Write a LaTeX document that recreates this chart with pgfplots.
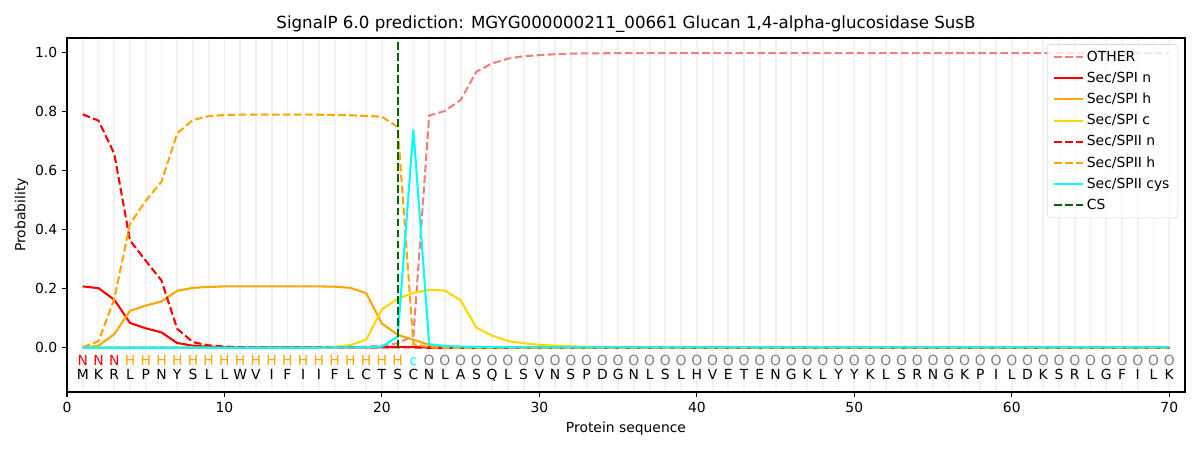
\documentclass[border=0pt]{standalone}
\usepackage{fontspec}
\setmainfont{DejaVu Sans}
\usepackage{pgfplots}
\pgfplotsset{compat=1.18}
\usepackage{pgfplotstable}
\definecolor{lcoral}{HTML}{F08080}
\definecolor{orng}{HTML}{FFA500}
\definecolor{gld}{HTML}{FFD700}
\definecolor{dgreen}{HTML}{006400}
\definecolor{cyn}{HTML}{00FFFF}
\definecolor{gry}{HTML}{808080}

\pgfplotstableread{
x other spin spih spic spiin spiih cys
1 0.001 0.208 0.000 0.000 0.791 0.002 0.000
2 0.001 0.202 0.007 0.000 0.770 0.022 0.000
3 0.001 0.163 0.046 0.000 0.658 0.165 0.000
4 0.001 0.084 0.125 0.000 0.364 0.420 0.000
5 0.001 0.066 0.143 0.000 0.295 0.498 0.000
6 0.001 0.052 0.157 0.000 0.228 0.563 0.000
7 0.001 0.016 0.193 0.000 0.064 0.727 0.000
8 0.001 0.007 0.203 0.000 0.019 0.772 0.000
9 0.001 0.003 0.206 0.000 0.008 0.785 0.000
10 0.001 0.002 0.208 0.000 0.004 0.789 0.000
11 0.001 0.001 0.208 0.000 0.002 0.790 0.000
12 0.001 0.001 0.208 0.000 0.001 0.790 0.000
13 0.001 0.001 0.208 0.000 0.001 0.790 0.000
14 0.001 0.001 0.208 0.000 0.001 0.790 0.000
15 0.001 0.001 0.208 0.000 0.001 0.790 0.000
16 0.001 0.001 0.208 0.001 0.001 0.790 0.000
17 0.001 0.001 0.207 0.003 0.001 0.789 0.001
18 0.002 0.001 0.203 0.009 0.001 0.788 0.001
19 0.004 0.001 0.185 0.027 0.001 0.786 0.002
20 0.007 0.002 0.082 0.130 0.001 0.783 0.004
21 0.015 0.003 0.044 0.166 0.001 0.749 0.038
22 0.040 0.003 0.027 0.186 0.001 0.012 0.739
23 0.787 0.001 0.010 0.196 0.000 0.002 0.012
24 0.803 0.000 0.003 0.194 0.000 0.000 0.006
25 0.840 0.000 0.001 0.161 0.000 0.000 0.004
26 0.936 0.000 0.000 0.068 0.000 0.000 0.003
27 0.964 0.000 0.000 0.041 0.000 0.000 0.002
28 0.980 0.000 0.000 0.023 0.000 0.000 0.002
29 0.988 0.000 0.000 0.015 0.000 0.000 0.001
30 0.992 0.000 0.000 0.010 0.000 0.000 0.001
31 0.995 0.000 0.000 0.007 0.000 0.000 0.001
32 0.997 0.000 0.000 0.005 0.000 0.000 0.001
33 0.998 0.000 0.000 0.003 0.000 0.000 0.001
34 0.998 0.000 0.000 0.002 0.000 0.000 0.001
35 0.999 0.000 0.000 0.001 0.000 0.000 0.001
36 0.999 0.000 0.000 0.001 0.000 0.000 0.001
37 0.999 0.000 0.000 0.001 0.000 0.000 0.001
38 0.999 0.000 0.000 0.001 0.000 0.000 0.001
39 0.999 0.000 0.000 0.001 0.000 0.000 0.001
40 0.999 0.000 0.000 0.001 0.000 0.000 0.001
41 0.999 0.000 0.000 0.000 0.000 0.000 0.001
42 0.999 0.000 0.000 0.000 0.000 0.000 0.001
43 0.999 0.000 0.000 0.000 0.000 0.000 0.001
44 0.999 0.000 0.000 0.000 0.000 0.000 0.001
45 0.999 0.000 0.000 0.000 0.000 0.000 0.001
46 0.999 0.000 0.000 0.000 0.000 0.000 0.001
47 0.999 0.000 0.000 0.000 0.000 0.000 0.001
48 0.999 0.000 0.000 0.000 0.000 0.000 0.001
49 0.999 0.000 0.000 0.000 0.000 0.000 0.001
50 0.999 0.000 0.000 0.000 0.000 0.000 0.001
51 0.999 0.000 0.000 0.000 0.000 0.000 0.001
52 0.999 0.000 0.000 0.000 0.000 0.000 0.001
53 0.999 0.000 0.000 0.000 0.000 0.000 0.001
54 0.999 0.000 0.000 0.000 0.000 0.000 0.001
55 0.999 0.000 0.000 0.000 0.000 0.000 0.001
56 0.999 0.000 0.000 0.000 0.000 0.000 0.001
57 0.999 0.000 0.000 0.000 0.000 0.000 0.001
58 0.999 0.000 0.000 0.000 0.000 0.000 0.001
59 0.999 0.000 0.000 0.000 0.000 0.000 0.001
60 0.999 0.000 0.000 0.000 0.000 0.000 0.001
61 0.999 0.000 0.000 0.000 0.000 0.000 0.001
62 0.999 0.000 0.000 0.000 0.000 0.000 0.001
63 0.999 0.000 0.000 0.000 0.000 0.000 0.001
64 0.999 0.000 0.000 0.000 0.000 0.000 0.001
65 0.999 0.000 0.000 0.000 0.000 0.000 0.001
66 0.999 0.000 0.000 0.000 0.000 0.000 0.001
67 0.999 0.000 0.000 0.000 0.000 0.000 0.001
68 0.999 0.000 0.000 0.000 0.000 0.000 0.001
69 0.999 0.000 0.000 0.000 0.000 0.000 0.001
70 0.999 0.000 0.000 0.000 0.000 0.000 0.001
}\probs

\pgfplotstableread{
x l
1 M
2 K
3 R
4 L
5 P
6 N
7 Y
8 S
9 L
10 L
11 W
12 V
13 I
14 F
15 I
16 I
17 F
18 L
19 C
20 T
21 S
22 C
23 N
24 L
25 A
26 S
27 Q
28 L
29 S
30 V
31 N
32 S
33 P
34 D
35 G
36 N
37 L
38 S
39 L
40 H
41 V
42 E
43 T
44 E
45 N
46 G
47 K
48 L
49 Y
50 Y
51 K
52 L
53 S
54 R
55 N
56 G
57 K
58 P
59 I
60 L
61 D
62 K
63 S
64 R
65 L
66 G
67 F
68 I
69 L
70 K
}\seq

\pgfplotstableread{
x l
1 N
2 N
3 N
}\labN

\pgfplotstableread{
x l
4 H
5 H
6 H
7 H
8 H
9 H
10 H
11 H
12 H
13 H
14 H
15 H
16 H
17 H
18 H
19 H
20 H
21 H
}\labH

\pgfplotstableread{
x l
22 c
}\labC

\pgfplotstableread{
x l
23 O
24 O
25 O
26 O
27 O
28 O
29 O
30 O
31 O
32 O
33 O
34 O
35 O
36 O
37 O
38 O
39 O
40 O
41 O
42 O
43 O
44 O
45 O
46 O
47 O
48 O
49 O
50 O
51 O
52 O
53 O
54 O
55 O
56 O
57 O
58 O
59 O
60 O
61 O
62 O
63 O
64 O
65 O
66 O
67 O
68 O
69 O
70 O
}\labO

\pgfplotsset{
  letters/.style={only marks, mark=*, mark size=0pt,
    mark options={draw=none, fill=none},
    nodes near coords, point meta=explicit symbolic, forget plot,
    every node near coord/.append style={anchor=base, inner sep=0pt,
      font=\fontsize{10}{12}\selectfont, text=#1}},
}

\begin{document}
\begin{tikzpicture}
\useasboundingbox (-48.24pt,-41.76pt) rectangle (815.76pt,282.24pt);
\begin{axis}[
  at={(0pt,0pt)}, anchor=south west,
  scale only axis,
  width=804.96pt, height=254.88pt,
  xmin=0, xmax=71, ymin=-0.15, ymax=1.05,
  xtick={0,10,...,70},
  ytick={0,0.2,0.4,0.6,0.8,1.0},
  yticklabel style={/pgf/number format/.cd, fixed, fixed zerofill, precision=1},
  /pgf/number format/assume math mode=true,
  minor xtick={1,2,...,70},
  xminorgrids,
  minor grid style={black!5, line width=1.3pt},
  minor tick length=0pt,
  tick align=outside,
  major tick length=3.5pt,
  tick style={black, line width=0.8pt},
  xtick pos=bottom, ytick pos=left,
  axis line style={line width=0.8pt},
  ticklabel style={font=\fontsize{10}{12}\selectfont},
  title={SignalP 6.0 prediction: MGYG000000211\_00661 Glucan 1,4-alpha-glucosidase SusB},
  title style={font=\fontsize{12}{14}\selectfont, yshift=-5.5pt},
  xlabel={Protein sequence},
  ylabel={Probability},
  label style={font=\fontsize{10}{12}\selectfont},
  xlabel style={yshift=0pt},
  ylabel style={yshift=-2pt},
  legend style={at={(1,1)}, anchor=north east, xshift=-5pt, yshift=-4.5pt,
    draw=black!15, rounded corners=2pt, fill=white, fill opacity=0.8, text opacity=1,
    font=\fontsize{10}{12}\selectfont, row sep=2.3pt,
    inner xsep=4pt, inner ysep=2.5pt},
  legend cell align=left,
  legend image code/.code={\draw[#1] (0pt,0pt) -- (21pt,0pt);},
  every axis plot/.append style={line width=1.5pt},
]
\addplot[color=lcoral, dash pattern=on 5.55pt off 2.4pt] table[x=x, y=other] {\probs};
\addlegendentry{OTHER}
\addplot[color=red] table[x=x, y=spin] {\probs};
\addlegendentry{Sec/SPI n}
\addplot[color=orng] table[x=x, y=spih] {\probs};
\addlegendentry{Sec/SPI h}
\addplot[color=gld] table[x=x, y=spic] {\probs};
\addlegendentry{Sec/SPI c}
\addplot[color=red, dash pattern=on 5.55pt off 2.4pt] table[x=x, y=spiin] {\probs};
\addlegendentry{Sec/SPII n}
\addplot[color=orng, dash pattern=on 5.55pt off 2.4pt] table[x=x, y=spiih] {\probs};
\addlegendentry{Sec/SPII h}
\addplot[color=cyn] table[x=x, y=cys] {\probs};
\addlegendentry{Sec/SPII cys}
\addplot[color=dgreen, dash pattern=on 5.55pt off 2.4pt] coordinates {(21,0) (21,1.035)};
\addlegendentry{CS}
\addplot[letters=black] table[x=x, y expr=-0.107, meta=l] {\seq};
\addplot[letters=red] table[x=x, y expr=-0.060, meta=l] {\labN};
\addplot[letters=orng] table[x=x, y expr=-0.060, meta=l] {\labH};
\addplot[letters=cyn] table[x=x, y expr=-0.060, meta=l] {\labC};
\addplot[letters=gry] table[x=x, y expr=-0.060, meta=l] {\labO};
\end{axis}
\end{tikzpicture}
\end{document}
